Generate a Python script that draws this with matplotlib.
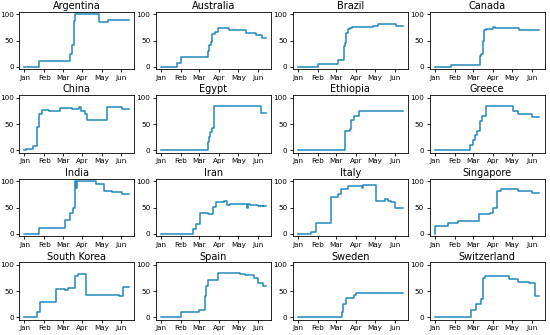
import numpy as np
import matplotlib
matplotlib.use("Agg")
import matplotlib.pyplot as plt
import matplotlib.dates as mdates

countries = ["Argentina", "Australia", "Brazil", "Canada",
             "China", "Egypt", "Ethiopia", "Greece",
             "India", "Iran", "Italy", "Singapore",
             "South Korea", "Spain", "Sweden", "Switzerland"]

end_date = "2020-06-13"

# change points (date, stringency value)
argentina_dates = ["2020-01-01", "2020-01-24", "2020-03-12", "2020-03-16", "2020-03-18", "2020-03-20", "2020-04-27", "2020-05-11"]
argentina_vals = [0, 11, 25, 42, 88, 100, 85, 90]

australia_dates = ["2020-01-01", "2020-01-25", "2020-02-01", "2020-03-14", "2020-03-16", "2020-03-19", "2020-03-21", "2020-03-25", "2020-03-30", "2020-04-17", "2020-05-13", "2020-05-28", "2020-06-07"]
australia_vals = [0, 8, 19, 30, 42, 48, 63, 66, 73, 70, 65, 60, 55]

brazil_dates = ["2020-01-01", "2020-02-01", "2020-03-03", "2020-03-13", "2020-03-15", "2020-03-17", "2020-03-19", "2020-03-22", "2020-03-26", "2020-04-27", "2020-05-05", "2020-06-03"]
brazil_vals = [0, 6, 12, 40, 45, 65, 72, 74, 75, 78, 81, 77]

canada_dates = ["2020-01-01", "2020-01-27", "2020-03-12", "2020-03-14", "2020-03-16", "2020-03-18", "2020-03-21", "2020-04-01", "2020-04-04", "2020-05-12"]
canada_vals = [0, 3, 20, 25, 50, 70, 72, 75, 73, 71]

china_dates = ["2020-01-01", "2020-01-03", "2020-01-14", "2020-01-21", "2020-01-24", "2020-01-29", "2020-02-08", "2020-02-25", "2020-03-15", "2020-03-27", "2020-03-30", "2020-04-05", "2020-04-08", "2020-05-09", "2020-06-02"]
china_vals = [0, 3, 9, 45, 70, 77, 75, 80, 79, 82, 74, 70, 57, 82, 78]

egypt_dates = ["2020-01-01", "2020-03-14", "2020-03-16", "2020-03-18", "2020-03-20", "2020-03-24", "2020-06-05"]
egypt_vals = [0, 15, 25, 35, 42, 85, 72]

ethiopia_dates = ["2020-01-01", "2020-03-15", "2020-03-22", "2020-03-24", "2020-03-29", "2020-04-06"]
ethiopia_vals = [0, 36, 40, 57, 65, 74]

greece_dates = ["2020-01-01", "2020-02-25", "2020-03-01", "2020-03-04", "2020-03-08", "2020-03-12", "2020-03-15", "2020-03-21", "2020-05-03", "2020-05-11", "2020-06-01"]
greece_vals = [0, 10, 20, 30, 36, 55, 65, 85, 74, 70, 63]

india_dates = ["2020-01-01", "2020-01-24", "2020-03-05", "2020-03-13", "2020-03-17", "2020-03-20", "2020-03-22", "2020-03-24", "2020-04-22", "2020-05-05", "2020-05-18", "2020-06-02"]
india_vals = [0, 11, 27, 40, 50, 100, 88, 100, 96, 82, 80, 76]

iran_dates = ["2020-01-01", "2020-02-20", "2020-02-25", "2020-03-02", "2020-03-14", "2020-03-22", "2020-03-27", "2020-04-08", "2020-04-13", "2020-04-18", "2020-05-14", "2020-05-16", "2020-05-20", "2020-06-01", "2020-06-04", "2020-06-05", "2020-06-08", "2020-06-09"]
iran_vals = [0, 10, 19, 40, 38, 52, 60, 62, 55, 57, 50, 56, 55, 53, np.nan, 53, np.nan, 53]

italy_dates = ["2020-01-01", "2020-01-21", "2020-01-30", "2020-02-21", "2020-03-04", "2020-03-09", "2020-03-19", "2020-04-10", "2020-04-12", "2020-05-03", "2020-05-16", "2020-05-21", "2020-05-26", "2020-06-02"]
italy_vals = [0, 3, 20, 70, 75, 86, 92, 88, 93, 63, 66, 63, 60, 49]

singapore_dates = ["2020-01-01", "2020-01-02", "2020-01-22", "2020-02-07", "2020-03-11", "2020-03-27", "2020-04-02", "2020-04-07", "2020-04-14", "2020-05-11", "2020-06-01"]
singapore_vals = [0, 14, 20, 25, 37, 40, 50, 82, 85, 82, 78]

south_korea_dates = ["2020-01-01", "2020-01-20", "2020-01-26", "2020-02-20", "2020-03-05", "2020-03-10", "2020-03-20", "2020-03-25", "2020-04-06", "2020-05-28", "2020-06-03"]
south_korea_vals = [0, 10, 30, 55, 52, 56, 78, 83, 43, 40, 57]

spain_dates = ["2020-01-01", "2020-02-01", "2020-03-01", "2020-03-09", "2020-03-12", "2020-03-14", "2020-03-30", "2020-05-04", "2020-05-11", "2020-05-25", "2020-06-01", "2020-06-08"]
spain_vals = [0, 11, 14, 40, 60, 71, 85, 83, 80, 75, 65, 60]

sweden_dates = ["2020-01-01", "2020-03-10", "2020-03-12", "2020-03-17", "2020-03-29", "2020-04-01"]
sweden_vals = [0, 11, 25, 37, 42, 46]

switzerland_dates = ["2020-01-01", "2020-02-27", "2020-03-06", "2020-03-13", "2020-03-16", "2020-03-20", "2020-04-27", "2020-05-11", "2020-05-28", "2020-06-06"]
switzerland_vals = [0, 14, 25, 35, 75, 78, 73, 68, 65, 40]

series = [
    (argentina_dates, argentina_vals), (australia_dates, australia_vals),
    (brazil_dates, brazil_vals), (canada_dates, canada_vals),
    (china_dates, china_vals), (egypt_dates, egypt_vals),
    (ethiopia_dates, ethiopia_vals), (greece_dates, greece_vals),
    (india_dates, india_vals), (iran_dates, iran_vals),
    (italy_dates, italy_vals), (singapore_dates, singapore_vals),
    (south_korea_dates, south_korea_vals), (spain_dates, spain_vals),
    (sweden_dates, sweden_vals), (switzerland_dates, switzerland_vals),
]

line_color = "#2389bd"

fig, axes = plt.subplots(4, 4, figsize=(5.5, 3.35), dpi=100)
fig.subplots_adjust(left=0.035, right=0.99, top=0.965, bottom=0.045,
                    wspace=0.19, hspace=0.45)

for ax, name, (d, v) in zip(axes.flat, countries, series):
    dates = np.array(list(d) + [end_date], dtype="datetime64[D]")
    vals = np.array(list(v) + [v[-1]], dtype=float)
    ax.plot(dates, vals, drawstyle="steps-post", color=line_color, lw=1.1)
    ax.set_title(name, fontsize=7, pad=2)
    ax.set_ylim(-5, 105)
    ax.set_yticks([0, 50, 100])
    ax.xaxis.set_major_locator(mdates.MonthLocator())
    ax.xaxis.set_major_formatter(mdates.DateFormatter("%b"))
    ax.tick_params(labelsize=5.2, length=2.5, width=0.6, pad=1.5)
    for s in ax.spines.values():
        s.set_linewidth(0.6)

fig.savefig("out.png", dpi=100)
